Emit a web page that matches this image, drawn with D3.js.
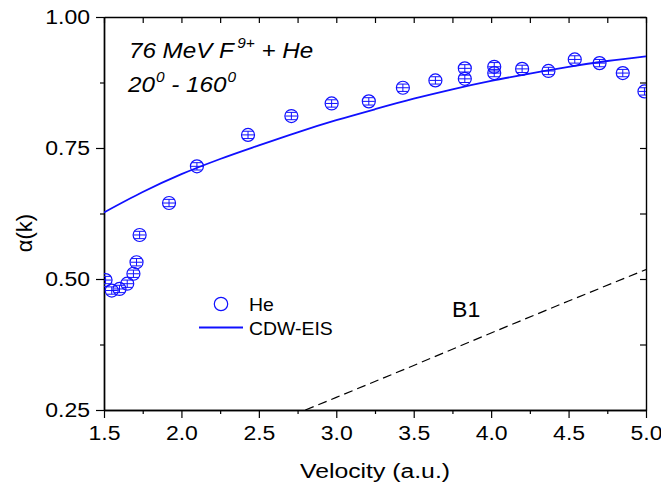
<!DOCTYPE html>
<html>
<head>
<meta charset="utf-8">
<script src="https://cdn.jsdelivr.net/npm/d3@7"></script>
<style>
body { margin: 0; background: #fff; }
text { font-family: "Liberation Sans", Arial, Helvetica, sans-serif; }
</style>
</head>
<body>
<div id="chart"></div>
<script>
// He data points (velocity, alpha, error)
const heVel = [1.51, 1.55, 1.60, 1.65, 1.69, 1.71, 1.73, 1.92, 2.10, 2.43, 2.71, 2.97, 3.21, 3.43, 3.64, 3.83, 3.83, 4.02, 4.02, 4.20, 4.37, 4.54, 4.70, 4.85, 4.99];
const heAlpha = [0.498, 0.478, 0.481, 0.491, 0.510, 0.532, 0.584, 0.645, 0.715, 0.775, 0.811, 0.835, 0.839, 0.865, 0.879, 0.902, 0.882, 0.905, 0.893, 0.901, 0.897, 0.919, 0.912, 0.893, 0.858];
const heErr = [0.007, 0.007, 0.007, 0.007, 0.007, 0.007, 0.007, 0.007, 0.007, 0.007, 0.007, 0.007, 0.007, 0.007, 0.007, 0.007, 0.007, 0.008, 0.007, 0.007, 0.007, 0.007, 0.007, 0.007, 0.007];

// CDW-EIS theory
const cdwVel = [1.5, 1.75, 2.0, 2.25, 2.5, 2.75, 3.0, 3.25, 3.5, 3.75, 4.0, 4.25, 4.5, 4.75, 5.0];
const cdwAlpha = [0.627, 0.666, 0.700, 0.729, 0.755, 0.780, 0.803, 0.824, 0.844, 0.862, 0.878, 0.892, 0.905, 0.916, 0.925];

// B1 theory
const b1Vel = [2.8, 3.0, 3.5, 4.0, 4.5, 5.0];
const b1Alpha = [0.25, 0.274, 0.335, 0.397, 0.458, 0.518];

const xTicks = [1.5, 2.0, 2.5, 3.0, 3.5, 4.0, 4.5, 5.0];
const xMinor = [1.75, 2.25, 2.75, 3.25, 3.75, 4.25, 4.75];
const yTicks = [0.25, 0.50, 0.75, 1.00];
const yMinor = [0.375, 0.625, 0.875];

const width = 661, height = 488;
const margin = {top: 17, right: 15, bottom: 78, left: 104};
const blue = "#1010ff";
const SX = 1.18; // glyphs in the figure are a bit wide

const svg = d3.select("#chart").append("svg")
  .attr("width", width)
  .attr("height", height);

const x = d3.scaleLinear().domain([1.5, 5.0]).range([margin.left, width - margin.right]);
const y = d3.scaleLinear().domain([0.25, 1.0]).range([height - margin.bottom, margin.top]);

svg.append("clipPath").attr("id", "clip")
  .append("rect")
  .attr("x", margin.left).attr("y", margin.top)
  .attr("width", x(5.0) - x(1.5)).attr("height", y(0.25) - y(1.0));

// axes
function styleAxis(g) {
  g.selectAll("path.domain").attr("stroke", "#000").attr("stroke-width", 1.4);
  g.selectAll(".tick line").attr("stroke", "#000").attr("stroke-width", 1.2);
}

const bottomAx = svg.append("g")
  .attr("transform", `translate(0,${y(0.25)})`)
  .call(d3.axisBottom(x).tickValues(xTicks).tickFormat(d3.format(".1f")).tickSize(8).tickSizeOuter(0).tickPadding(8));
bottomAx.selectAll("text").attr("font-size", 19.5).attr("fill", "#000").attr("transform", `scale(${SX},1)`);
styleAxis(bottomAx);
svg.append("g")
  .attr("transform", `translate(0,${y(0.25)})`)
  .call(d3.axisBottom(x).tickValues(xMinor).tickFormat("").tickSize(4).tickSizeOuter(0))
  .call(styleAxis);

svg.append("g")
  .attr("transform", `translate(0,${y(1.0)})`)
  .call(d3.axisTop(x).tickValues(xTicks.concat(xMinor)).tickFormat("").tickSize(-6).tickSizeOuter(0))
  .call(styleAxis);

const leftAx = svg.append("g")
  .attr("transform", `translate(${x(1.5)},0)`)
  .call(d3.axisLeft(y).tickValues(yTicks).tickFormat(d3.format(".2f")).tickSize(8).tickSizeOuter(0).tickPadding(6));
leftAx.selectAll("text").attr("font-size", 19.5).attr("fill", "#000")
  .attr("x", -14 / SX).attr("transform", `scale(${SX},1)`);
styleAxis(leftAx);
svg.append("g")
  .attr("transform", `translate(${x(1.5)},0)`)
  .call(d3.axisLeft(y).tickValues(yMinor).tickFormat("").tickSize(4).tickSizeOuter(0))
  .call(styleAxis);

svg.append("g")
  .attr("transform", `translate(${x(5.0)},0)`)
  .call(d3.axisRight(y).tickValues(yTicks.concat(yMinor)).tickFormat("").tickSize(-6).tickSizeOuter(0))
  .call(styleAxis);

// axis titles
svg.append("text")
  .attr("transform", `translate(${(x(1.5) + x(5.0)) / 2},478) scale(${SX},1)`)
  .attr("text-anchor", "middle")
  .attr("font-size", 21)
  .text("Velocity (a.u.)");

svg.append("text")
  .attr("transform", "translate(32,233) rotate(-90)")
  .attr("text-anchor", "middle")
  .attr("font-size", 22)
  .text("\u03b1(k)");

const plot = svg.append("g").attr("clip-path", "url(#clip)");

// B1 dashed
const line = d3.line().x(d => x(d[0])).y(d => y(d[1]));
plot.append("path")
  .datum(b1Vel.map((v, i) => [v, b1Alpha[i]]))
  .attr("d", line)
  .attr("fill", "none")
  .attr("stroke", "#000")
  .attr("stroke-width", 1.2)
  .attr("stroke-dasharray", "9,5");

// CDW-EIS
plot.append("path")
  .datum(cdwVel.map((v, i) => [v, cdwAlpha[i]]))
  .attr("d", line.curve(d3.curveMonotoneX))
  .attr("fill", "none")
  .attr("stroke", blue)
  .attr("stroke-width", 1.8);

// He points with error bars
const pts = plot.selectAll("g.pt")
  .data(heVel.map((v, i) => ({v: v, a: heAlpha[i], e: heErr[i]})))
  .join("g")
  .attr("class", "pt")
  .attr("transform", d => `translate(${x(d.v)},${y(d.a)})`);

pts.append("circle")
  .attr("r", 6.5)
  .attr("fill", "none")
  .attr("stroke", blue)
  .attr("stroke-width", 1.2);
pts.append("line")
  .attr("y1", d => y(d.a + d.e) - y(d.a))
  .attr("y2", d => y(d.a - d.e) - y(d.a))
  .attr("stroke", blue).attr("stroke-width", 1);
pts.append("line")
  .attr("x1", -5).attr("x2", 5)
  .attr("y1", d => y(d.a + d.e) - y(d.a))
  .attr("y2", d => y(d.a + d.e) - y(d.a))
  .attr("stroke", blue).attr("stroke-width", 1);
pts.append("line")
  .attr("x1", -5).attr("x2", 5)
  .attr("y1", d => y(d.a - d.e) - y(d.a))
  .attr("y2", d => y(d.a - d.e) - y(d.a))
  .attr("stroke", blue).attr("stroke-width", 1);
pts.append("line")
  .attr("x1", -6).attr("x2", 6)
  .attr("stroke", blue).attr("stroke-width", 1);

// legend
svg.append("circle")
  .attr("cx", 221).attr("cy", 304).attr("r", 6.7)
  .attr("fill", "none").attr("stroke", blue).attr("stroke-width", 1.2);
svg.append("text")
  .attr("transform", "translate(249,311) scale(1.08,1)")
  .attr("font-size", 18).text("He");
svg.append("line")
  .attr("x1", 199).attr("x2", 243).attr("y1", 327.5).attr("y2", 327.5)
  .attr("stroke", blue).attr("stroke-width", 1.8);
svg.append("text")
  .attr("transform", "translate(249,335) scale(1.08,1)")
  .attr("font-size", 18).text("CDW-EIS");

svg.append("text")
  .attr("transform", "translate(452,317) scale(1.05,1)")
  .attr("font-size", 22).text("B1");

// annotation
const t1 = svg.append("text")
  .attr("transform", "translate(129,58) scale(1.1,1)")
  .attr("font-size", 22).attr("font-style", "italic");
t1.append("tspan").text("76 MeV F");
t1.append("tspan").attr("dx", 3).attr("dy", -10).attr("font-size", 14).text("9+");
t1.append("tspan").attr("dy", 10).text(" + He");

const t2 = svg.append("text")
  .attr("transform", "translate(128,92) scale(1.1,1)")
  .attr("font-size", 22).attr("font-style", "italic");
t2.append("tspan").text("20");
t2.append("tspan").attr("dx", 1).attr("dy", -10).attr("font-size", 14).text("0");
t2.append("tspan").attr("dy", 10).text(" - 160");
t2.append("tspan").attr("dx", 1).attr("dy", -10).attr("font-size", 14).text("0");
</script>
</body>
</html>
